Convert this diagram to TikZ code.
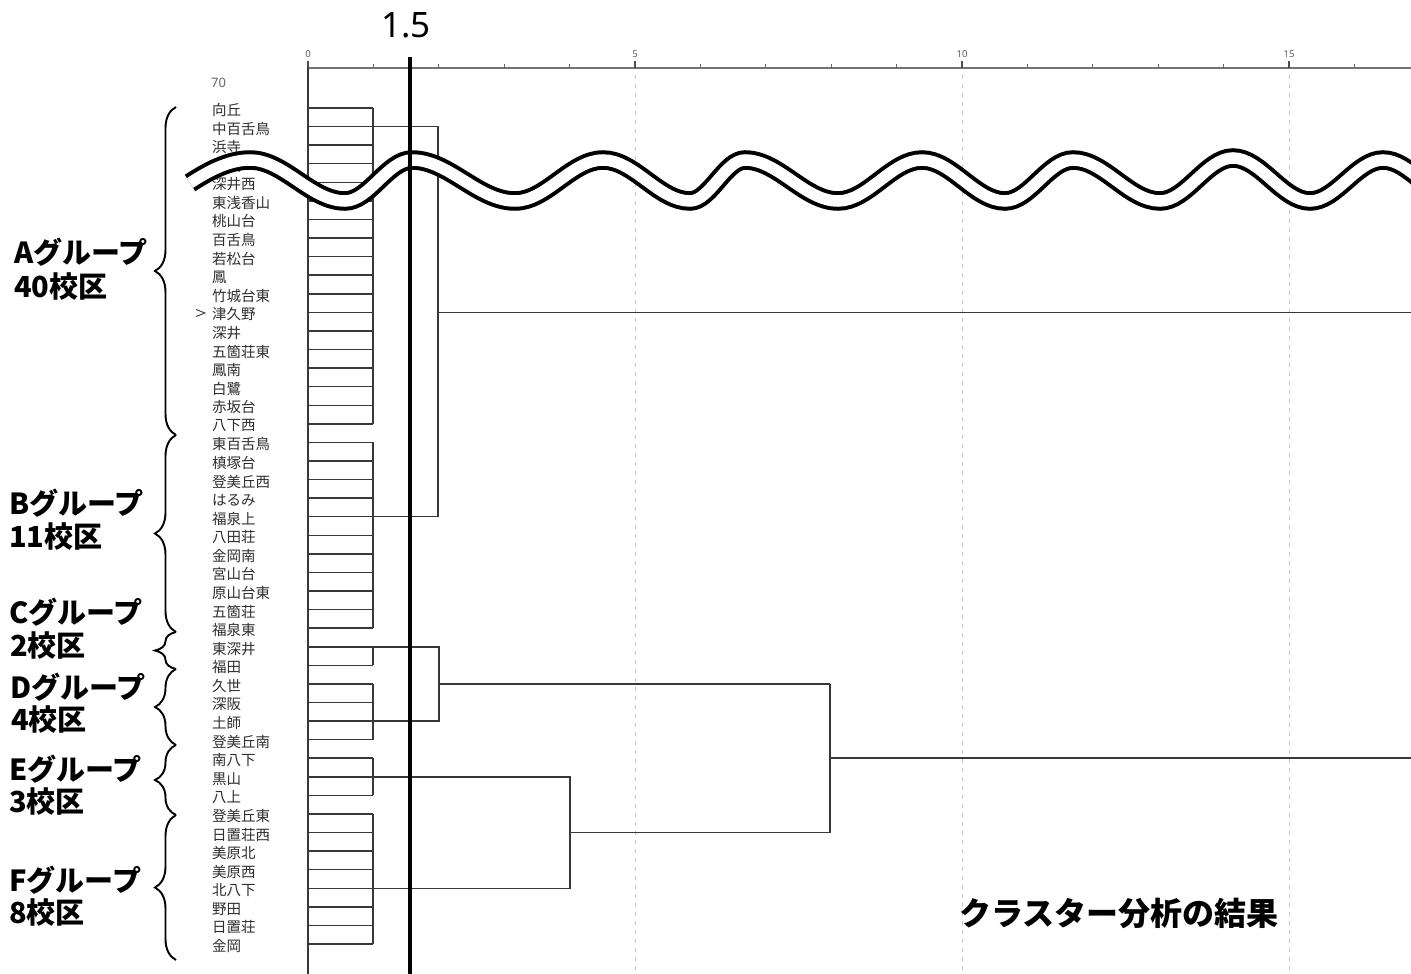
\documentclass[tikz,border=0pt]{standalone}
\usepackage{fontspec}
\usetikzlibrary{decorations.pathreplacing}
\newfontfamily\jp{Noto Sans CJK JP}
\newfontfamily\numf{Noto Sans}
\tikzset{
  dend/.style={draw=black!78, line width=1.5pt},
  leaf/.style={anchor=west, font=\jp\fontsize{14.5}{15}\selectfont, text=black!82, inner sep=0pt},
  grp/.style={anchor=west, font=\jp\bfseries\fontsize{29}{32}\selectfont, inner sep=0pt},
  gbrace/.style={decorate, decoration={brace, amplitude=21pt}, line width=1.9pt},
  gridln/.style={draw=black!22, line width=1pt, dash pattern=on 4pt off 5pt},
  ticklbl/.style={font=\numf\fontsize{9.5}{10}\selectfont, text=black!65, inner sep=0pt},
  wave/.style={line width=4pt, double=white, double distance=11.5pt},
}
\begin{document}
\begin{tikzpicture}[x=1pt,y=-1pt]
\useasboundingbox (0,0) rectangle (1411,974);
\clip (0,0) rectangle (1411,974);
\fill[white] (0,0) rectangle (1411,974);

% grid lines
\foreach \gx [count=\g] in {635,962,1289} \draw[gridln] (\gx,75) -- (\gx,974);

% axis
\draw[black!55, line width=1.3pt] (308,68) -- (1411,68);
\foreach \k in {1,2,3,4,6,7,8,9,11,12,13,14,16}
  \draw[black!60, line width=1pt] ({308+65.4*\k},64.5) -- ({308+65.4*\k},68);
\foreach \k in {0,5,10,15}{
  \draw[black!70, line width=1.2pt] ({308+65.4*\k},61) -- ({308+65.4*\k},68);
  \node[ticklbl] (tl\k) at ({308+65.4*\k},54) {\k};
}
\node[font=\numf\fontsize{13}{14}\selectfont, text=black!60, anchor=west, inner sep=0pt] (seventy) at (211,83) {70};

% leaf labels and leaf lines
\foreach \lbl [count=\i] in {向丘,中百舌鳥,浜寺,鳳東,深井西,東浅香山,桃山台,百舌鳥,若松台,鳳,竹城台東,津久野,深井,五箇荘東,鳳南,白鷺,赤坂台,八下西,東百舌鳥,槙塚台,登美丘西,はるみ,福泉上,八田荘,金岡南,宮山台,原山台東,五箇荘,福泉東,東深井,福田,久世,深阪,土師,登美丘南,南八下,黒山,八上,登美丘東,日置荘西,美原北,美原西,北八下,野田,日置荘,金岡}{
  \pgfmathsetmacro\yy{108+18.578*(\i-1)}
  \node[leaf] (leaf\i) at (212,\yy+2) {\lbl};
  \draw[dend] (308,\yy) -- (373,\yy);
}
\draw[black!70, line width=1pt] (196,309.5) -- (205,313) -- (196,316.5);

% dendrogram
\draw[dend] (308,68) -- (308,974);
\draw[dend] (373,108) -- (373,423.83);
\draw[dend] (373,442.40) -- (373,628.18);
\draw[dend] (373,646.76) -- (373,665.34);
\draw[dend] (373,683.91) -- (373,739.65);
\draw[dend] (373,758.23) -- (373,795.38);
\draw[dend] (373,813.96) -- (373,943.99);
% A + B/C
\draw[dend] (373,126.58) -- (438,126.58) -- (438,516.71) -- (373,516.71);
\draw[dend] (438,312.36) -- (1411,312.36);
% C + D
\draw[dend] (373,646.76) -- (439,646.76) -- (439,721.07) -- (373,721.07);
\draw[dend] (439,683.91) -- (830,683.91);
% E + F
\draw[dend] (373,776.80) -- (570,776.80) -- (570,888.27) -- (373,888.27);
\draw[dend] (570,832.54) -- (830,832.54);
\draw[dend] (830,683.91) -- (830,832.54);
\draw[dend] (830,758.23) -- (1411,758.23);

% braces
\draw[gbrace] (176,435) -- (176,107);
\draw[gbrace] (176,632) -- (176,435);
\draw[gbrace] (176,669) -- (176,632);
\draw[gbrace] (176,745) -- (176,669);
\draw[gbrace] (176,815) -- (176,745);
\draw[gbrace] (176,960) -- (176,815);

% group labels
\node[grp] (ga1) at (14,252) {Aグループ};
\node[grp] (ga2) at (14,287) {40校区};
\node[grp] (gb1) at (9,503) {Bグループ};
\node[grp] (gb2) at (9,537) {11校区};
\node[grp] (gc1) at (9,612) {Cグループ};
\node[grp] (gc2) at (10,646) {2校区};
\node[grp] (gd1) at (10,687) {Dグループ};
\node[grp] (gd2) at (11,720) {4校区};
\node[grp] (ge1) at (9,769) {Eグループ};
\node[grp] (ge2) at (9,802) {3校区};
\node[grp] (gf1) at (9,880) {Fグループ};
\node[grp] (gf2) at (9,913) {8校区};

\node[anchor=west, font=\jp\bfseries\fontsize{32}{35}\selectfont, inner sep=0pt] (title) at (959,913) {クラスター分析の結果};

% wave (omission mark)
\draw[wave] (190,183) .. controls (207,172) and (228,160) .. (250,160)
  .. controls (284.2,160) and (310.8,201) .. (345,201)
  .. controls (369.1,201) and (387.9,160) .. (412,160)
  .. controls (449.1,160) and (477.9,201) .. (515,201)
  .. controls (546.7,201) and (571.3,160) .. (603,160)
  .. controls (634.3,160) and (658.7,201) .. (690,201)
  .. controls (709.8,201) and (725.2,160) .. (745,160)
  .. controls (778.5,160) and (804.5,201) .. (838,201)
  .. controls (868.2,201) and (891.8,160) .. (922,160)
  .. controls (951.9,160) and (975.1,201) .. (1005,201)
  .. controls (1029.5,201) and (1048.5,160) .. (1073,160)
  .. controls (1104.3,160) and (1128.7,201) .. (1160,201)
  .. controls (1186.3,201) and (1206.7,158) .. (1233,158)
  .. controls (1260.7,158) and (1282.3,201) .. (1310,201)
  .. controls (1336.3,201) and (1356.7,160) .. (1383,160)
  .. controls (1410.7,160) and (1432.3,201) .. (1460,201);

% threshold line
\draw[black, line width=4.5pt] (410,57) -- (410,974);
\node[font=\numf\fontsize{35}{38}\selectfont, inner sep=0pt] (thr) at (406,25) {1.5};
\end{tikzpicture}
\end{document}
